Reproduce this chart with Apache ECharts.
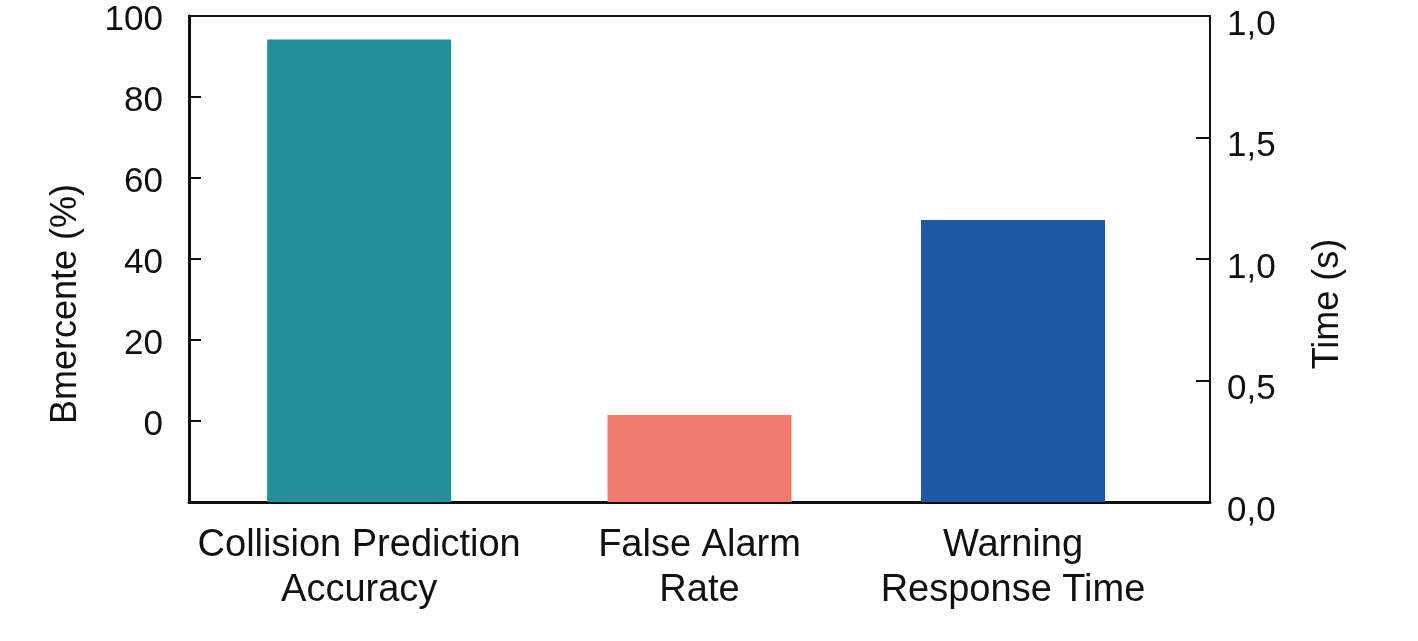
<!DOCTYPE html>
<html>
<head>
<meta charset="utf-8">
<script src="https://cdn.jsdelivr.net/npm/echarts@6/dist/echarts.min.js"></script>
<style>
  html, body { margin: 0; padding: 0; background: #ffffff; }
  #chart { width: 1418px; height: 641px; }
</style>
</head>
<body>
<div id="chart"></div>
<script>
// ---- Data ----
const categories = ['Collision Prediction\nAccuracy', 'False Alarm\nRate', 'Warning\nResponse Time'];
const percentValues = [94.2, 1.5, null];   // left axis (%)
const timeValues = [null, null, 1.16];     // right axis (s)
const barColors = ['#268E99', '#F07A6E', '#1E57A2'];
const leftAxisName = 'Bmercente (%)';
const rightAxisName = 'Time (s)';
const leftTickValues = [-20, 0, 20, 40, 60, 80, 100];
const rightTickLabels = ['0,0', '0,5', '1,0', '1,5', '1,0'];

const LEFT_MIN = leftTickValues[0];
const LEFT_MAX = leftTickValues[leftTickValues.length - 1];

const FONT = "'Liberation Sans', Arial, Helvetica, sans-serif";
const INK = '#111111';

const chart = echarts.init(document.getElementById('chart'), null, { renderer: 'canvas' });

const catLabelStyle = {
  color: INK, fontFamily: FONT, fontSize: 38, lineHeight: 45, margin: 21, interval: 0
};

function colored(values) {
  return values.map(function (v, i) {
    return v === null ? '-' : { value: v, itemStyle: { color: barColors[i] } };
  });
}

const option = {
  animation: false,
  backgroundColor: '#ffffff',
  grid: [
    {
      left: 189, right: 208, top: 16, bottom: 139,
      show: true, borderColor: INK, borderWidth: 2, backgroundColor: 'transparent'
    },
    {
      left: 28, right: 208, top: 16, bottom: 139,
      show: false
    }
  ],
  xAxis: [
    {
      type: 'category',
      gridIndex: 0,
      data: categories,
      axisLine: { show: true, onZero: false, lineStyle: { color: INK, width: 3 } },
      axisTick: { show: false },
      axisLabel: Object.assign({}, catLabelStyle, {
        formatter: function (v, i) { return i < 2 ? v : ''; }
      }),
      splitLine: { show: false }
    },
    {
      type: 'category',
      gridIndex: 1,
      data: categories,
      axisLine: { show: false, onZero: false },
      axisTick: { show: false },
      axisLabel: Object.assign({}, catLabelStyle, {
        formatter: function (v, i) { return i === 2 ? v : ''; }
      }),
      splitLine: { show: false }
    }
  ],
  yAxis: [
    {
      type: 'value',
      gridIndex: 0,
      position: 'left',
      min: LEFT_MIN, max: LEFT_MAX, interval: 20,
      name: leftAxisName,
      nameLocation: 'middle',
      nameRotate: 90,
      nameGap: 105,
      nameTextStyle: { color: INK, fontFamily: FONT, fontSize: 36, padding: [0, 90, 0, 0] },
      axisLine: { show: true, onZero: false, lineStyle: { color: INK, width: 3 } },
      axisTick: { show: true, inside: true, length: 12, lineStyle: { color: INK, width: 2 } },
      axisLabel: {
        color: INK, fontFamily: FONT, fontSize: 35, margin: 26,
        verticalAlign: 'top', lineHeight: 8,
        formatter: function (v) { return v < 0 ? '' : String(v); }
      },
      splitLine: { show: false }
    },
    {
      type: 'value',
      gridIndex: 1,
      position: 'right',
      min: 0, max: 2, interval: 0.5,
      name: rightAxisName,
      nameLocation: 'middle',
      nameRotate: 90,
      nameGap: 100,
      nameTextStyle: { color: INK, fontFamily: FONT, fontSize: 36, padding: [0, 90, 0, 0] },
      axisLine: { show: true, onZero: false, lineStyle: { color: INK, width: 2 } },
      axisTick: { show: true, inside: true, length: 14, lineStyle: { color: INK, width: 2 } },
      axisLabel: {
        color: INK, fontFamily: FONT, fontSize: 35, margin: 17,
        verticalAlign: 'top', lineHeight: 18,
        formatter: function (v) {
          const i = Math.round(v / 0.5);
          return rightTickLabels[i] !== undefined ? rightTickLabels[i] : '';
        }
      },
      splitLine: { show: false }
    }
  ],
  series: [
    {
      name: 'Percent (base)',
      type: 'bar',
      xAxisIndex: 0, yAxisIndex: 0,
      stack: 'pct',
      barWidth: 184,
      data: colored(percentValues.map(function (v) { return v === null ? null : LEFT_MIN; }))
    },
    {
      name: 'Percent',
      type: 'bar',
      xAxisIndex: 0, yAxisIndex: 0,
      stack: 'pct',
      barWidth: 184,
      data: colored(percentValues)
    },
    {
      name: 'Time',
      type: 'bar',
      xAxisIndex: 1, yAxisIndex: 1,
      barWidth: 184,
      data: colored(timeValues)
    }
  ]
};

chart.setOption(option);
</script>
</body>
</html>
